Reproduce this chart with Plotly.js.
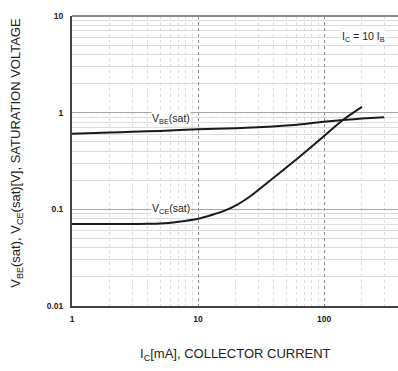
<!DOCTYPE html>
<html><head><meta charset="utf-8">
<script src="https://cdn.plot.ly/plotly-3.0.1.min.js"></script>
<style>html,body{margin:0;padding:0;background:#fff;}#chart{width:398px;height:371px;}</style>
</head><body><div id="chart"></div>
<script>
// Data
const icVbe = [1, 2, 3, 5, 10, 20, 30, 50, 70, 100, 150, 200, 300];
const vbeSat = [0.607, 0.622, 0.633, 0.648, 0.672, 0.69, 0.705, 0.735, 0.765, 0.805, 0.845, 0.868, 0.894];
const icVce = [1, 2, 3, 4, 5, 7, 10, 13, 16.3, 20, 25.7, 40.6, 64, 100, 141, 200];
const vceSat = [0.0705, 0.0705, 0.0706, 0.0708, 0.0713, 0.0745, 0.08, 0.088, 0.097, 0.11, 0.135, 0.217, 0.35, 0.573, 0.84, 1.15];
const xTickVals = [1, 10, 100];
const xTickText = ['1', '10', '100'];
const yTickVals = [0.01, 0.1, 1, 10];
const yTickText = ['0.01', '0.1', '1', '10'];
const mult = [2, 3, 4, 5, 6, 7, 8, 9];
const xMinor = [1, 10, 100].flatMap(d => mult.map(m => m * d));
const yMinor = [0.01, 0.1, 1].flatMap(d => mult.map(m => m * d));

const lineStyle = {color: '#1a1a1a', width: 2, shape: 'spline', smoothing: 0.8};
const traces = [
  {x: icVbe, y: vbeSat, mode: 'lines', line: lineStyle, hoverinfo: 'skip'},
  {x: icVce, y: vceSat, mode: 'lines', line: lineStyle, hoverinfo: 'skip'}
];

const tickFont = {family: 'Liberation Sans, Arial, sans-serif', size: 8.5, color: '#222', weight: 'bold'};
const layout = {
  width: 398, height: 371,
  margin: {l: 72, r: 0, t: 16, b: 65},
  paper_bgcolor: '#fff', plot_bgcolor: '#fff',
  showlegend: false,
  font: {family: 'Liberation Sans, Arial, sans-serif', color: '#222'},
  xaxis: {
    type: 'log', range: [0, 2.587],
    tickvals: xTickVals, ticktext: xTickText, tickfont: tickFont,
    ticks: '', ticklabelstandoff: 4,
    showgrid: true, gridcolor: '#8a8a8a', griddash: 'dot', gridwidth: 1,
    minor: {tickvals: xMinor, showgrid: true, gridcolor: '#dcdcdc', gridwidth: 1, ticks: ''},
    showline: true, linecolor: '#444', linewidth: 2, zeroline: false
  },
  yaxis: {
    type: 'log', range: [-2, 1],
    tickvals: yTickVals, ticktext: yTickText, tickfont: tickFont,
    ticks: '', ticklabelstandoff: 5,
    showgrid: true, gridcolor: '#a8a8a8', gridwidth: 1.5,
    minor: {tickvals: yMinor, showgrid: true, gridcolor: '#dcdcdc', gridwidth: 1, ticks: ''},
    showline: true, linecolor: '#444', linewidth: 2, zeroline: false
  },
  shapes: [
    {type: 'line', xref: 'paper', yref: 'y', x0: 0, x1: 1, y0: 1, y1: 1, layer: 'below',
     line: {color: '#d79a9a', width: 1, dash: 'dot'}},
    {type: 'line', xref: 'paper', yref: 'paper', x0: 0, x1: 1, y0: 1, y1: 1, layer: 'above',
     line: {color: '#8c8c8c', width: 2}}
  ],
  annotations: [
    {x: Math.log10(6.07), y: Math.log10(0.85), xref: 'x', yref: 'y', text: 'V<sub>BE</sub>(sat)', showarrow: false,
     font: {size: 10.5, color: '#222'}, bgcolor: '#fff', borderpad: 0},
    {x: Math.log10(6.07), y: Math.log10(0.1), xref: 'x', yref: 'y', text: 'V<sub>CE</sub>(sat)', showarrow: false,
     font: {size: 10.5, color: '#222'}, bgcolor: '#fff', borderpad: 0},
    {x: Math.log10(206), y: Math.log10(6.07), xref: 'x', yref: 'y', text: 'I<sub>C</sub> = 10 I<sub>B</sub>', showarrow: false,
     font: {size: 10.5, color: '#222'}, bgcolor: '#fff', borderpad: 0},
    {x: 0.503, y: -0.168, xref: 'paper', yref: 'paper', text: 'I<sub>C</sub>[mA], COLLECTOR CURRENT', showarrow: false,
     font: {size: 13, color: '#222'}, xanchor: 'center', yanchor: 'middle'},
    {x: -0.169, y: 0.528, xref: 'paper', yref: 'paper', textangle: -90,
     text: 'V<sub>BE</sub>(sat), V<sub>CE</sub>(sat)[V], SATURATION VOLTAGE', showarrow: false,
     font: {size: 13, color: '#222'}, xanchor: 'center', yanchor: 'middle'}
  ]
};
Plotly.newPlot('chart', traces, layout, {displayModeBar: false, staticPlot: true});
</script>
</body></html>
